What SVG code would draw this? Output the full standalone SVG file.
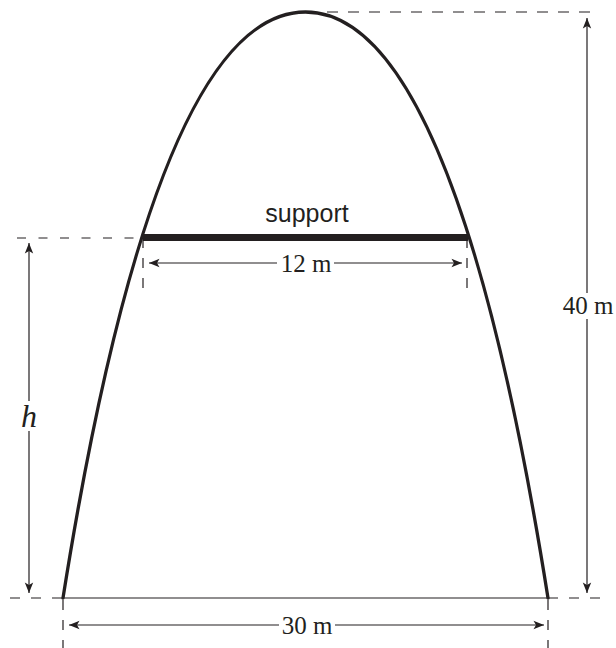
<svg xmlns="http://www.w3.org/2000/svg" width="616" height="648" viewBox="0 0 616 648">
<style>
.curve{fill:none;stroke:#231f20;stroke-width:3.3;stroke-linecap:round}
.dash{fill:none;stroke:#231f20;stroke-width:1.2;stroke-dasharray:10 10}
.dim{fill:none;stroke:#231f20;stroke-width:1.2}
.serif{font-family:"Liberation Serif","Times New Roman",serif;font-size:25px;fill:#231f20;text-anchor:middle}
.sans{font-family:"Liberation Sans",Arial,sans-serif;font-size:25px;fill:#231f20;text-anchor:middle}
.ital{font-family:"Liberation Serif","Times New Roman",serif;font-style:italic;font-size:32px;fill:#231f20;text-anchor:middle}
</style>
<defs>
<marker id="ah" viewBox="-11 -5 12 10" refX="0" refY="0" markerWidth="12" markerHeight="10" markerUnits="userSpaceOnUse" orient="auto-start-reverse">
<path d="M0,0 L-10.5,-4.2 L-8,0 L-10.5,4.2 Z" fill="#231f20"/>
</marker>
</defs>
<rect width="616" height="648" fill="#fff"/>
<g id="arch">
<path class="curve" d="M63,598 Q156,12 305.5,12 Q455,12 548,598"/>
<line x1="63" y1="598" x2="548" y2="598" class="dim"/>
</g>
<g id="support">
<line x1="143" y1="237.5" x2="468" y2="237.5" stroke="#231f20" stroke-width="7"/>
<text x="307" y="222" class="sans">support</text>
</g>
<g id="guides">
<line x1="327" y1="12" x2="594" y2="12" class="dash" style="stroke-dasharray:11 10"/>
<line x1="17" y1="238" x2="142" y2="238" class="dash" style="stroke-dasharray:9 12.5"/>
<line x1="10" y1="598" x2="63" y2="598" class="dash" style="stroke-dasharray:10 11"/>
<line x1="548" y1="598" x2="601" y2="598" class="dash" style="stroke-dasharray:10 11"/>
<line x1="63" y1="600" x2="63" y2="648" class="dash"/>
<line x1="548" y1="600" x2="548" y2="648" class="dash"/>
<line x1="143" y1="238" x2="143" y2="290" class="dash"/>
<line x1="467" y1="238" x2="467" y2="290" class="dash"/>
</g>
<g id="connectors">
<line x1="277" y1="263" x2="149" y2="263" class="dim" marker-end="url(#ah)"/>
<line x1="334" y1="263" x2="462" y2="263" class="dim" marker-end="url(#ah)"/>
<line x1="279" y1="625" x2="69" y2="625" class="dim" marker-end="url(#ah)"/>
<line x1="335" y1="625" x2="544" y2="625" class="dim" marker-end="url(#ah)"/>
<line x1="29" y1="401" x2="29" y2="243" class="dim" marker-end="url(#ah)"/>
<line x1="29" y1="431" x2="29" y2="593" class="dim" marker-end="url(#ah)"/>
<line x1="587" y1="293" x2="587" y2="18" class="dim" marker-end="url(#ah)"/>
<line x1="587" y1="319" x2="587" y2="593" class="dim" marker-end="url(#ah)"/>
</g>
<g id="labels">
<text x="306" y="272" class="serif">12 m</text>
<text x="307" y="634" class="serif">30 m</text>
<text x="588" y="314" class="serif">40 m</text>
<text x="29" y="427" class="ital">h</text>
</g>
</svg>
